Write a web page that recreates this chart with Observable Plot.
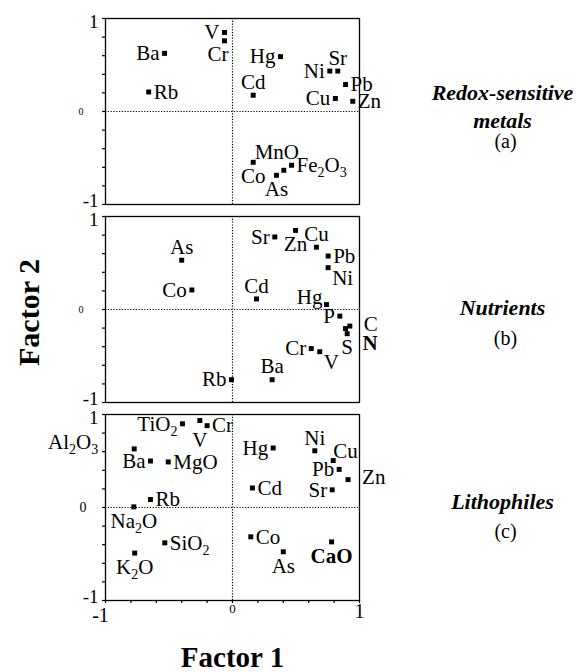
<!DOCTYPE html>
<html><head><meta charset="utf-8">
<script src="https://cdn.jsdelivr.net/npm/d3@7"></script>
<script src="https://cdn.jsdelivr.net/npm/@observablehq/plot@0.6"></script>
<style>body{margin:0;background:#fff;} svg{overflow:visible;}</style>
</head><body><div id="chart"></div>
<script>
// ---------- DATA ----------
const panels = ["a", "b", "c"];
const panelTitles = ["Redox-sensitive\nmetals", "Nutrients", "Lithophiles"];
const panelTags = ["(a)", "(b)", "(c)"];
const axisTicks = [-1, 0, 1];

// (a) Redox-sensitive metals
const labelsA  = ["V", "Cr", "Ba", "Rb", "Hg", "Cd", "Ni", "Sr", "Pb", "Cu", "Zn", "Co", "As", "MnO", "Fe2O3"];
const factor1A = [-0.063, -0.063, -0.535, -0.66, 0.378, 0.163, 0.766, 0.829, 0.89, 0.81, 0.947, 0.163, 0.346, 0.404, 0.465];
const factor2A = [0.85, 0.76, 0.625, 0.21, 0.59, 0.175, 0.435, 0.435, 0.29, 0.14, 0.11, -0.546, -0.686, -0.632, -0.578];

// (b) Nutrients
const labelsB  = ["Sr", "Zn", "Cu", "Pb", "Ni", "As", "Co", "Cd", "Hg", "P", "C", "N", "S", "Cr", "V", "Ba", "Rb"];
const factor1B = [0.333, 0.496, 0.661, 0.753, 0.753, -0.40, -0.32, 0.189, 0.74, 0.845, 0.924, 0.89, 0.903, 0.62, 0.687, 0.312, -0.008];
const factor2B = [0.78, 0.85, 0.67, 0.575, 0.45, 0.53, 0.21, 0.114, 0.053, -0.071, -0.178, -0.205, -0.26, -0.42, -0.454, -0.755, -0.755];

// (c) Lithophiles
const labelsC  = ["TiO2", "V", "Cr", "Al2O3", "Ba", "MgO", "Rb", "Na2O", "SiO2", "K2O", "Hg", "Cd", "Ni", "Cu", "Pb", "Zn", "Sr", "Co", "As", "CaO"];
const factor1C = [-0.394, -0.257, -0.20, -0.774, -0.646, -0.506, -0.646, -0.777, -0.533, -0.77, 0.32, 0.157, 0.648, 0.793, 0.84, 0.91, 0.785, 0.144, 0.40, 0.78];
const factor2C = [0.90, 0.935, 0.88, 0.63, 0.50, 0.49, 0.086, 0.007, -0.38, -0.49, 0.64, 0.21, 0.61, 0.505, 0.41, 0.30, 0.19, -0.315, -0.476, -0.37];

// ---------- LAYOUT (label placement codes, styles) ----------
const placeA = ["W", "SW", "W", "E", "W", "N", "W", "N", "E", "W", "E", "S", "S", "Nl", "E"];
const placeB = ["W", "S", "N", "E", "SE", "N", "W", "N", "NW", "W", "EE", "SEE", "S", "W", "SE", "N", "W"];
const placeC = ["W", "S2", "E", "WW", "W", "E", "E", "S", "E", "S", "W", "E", "N", "NE", "W", "EE", "W", "E", "S", "S"];
const boldLabels = [["b", "N"], ["c", "CaO"]];

const codes = {
  W:   {textAnchor: "end",    dx: -5, dy: 0},
  E:   {textAnchor: "start",  dx: 5,  dy: 0},
  EE:  {textAnchor: "start",  dx: 14, dy: -2},
  N:   {textAnchor: "middle", dx: 0,  dy: -13},
  Nl:  {textAnchor: "middle", dx: -7, dy: -18},
  S:   {textAnchor: "middle", dx: 0,  dy: 14},
  S2:  {textAnchor: "middle", dx: 0,  dy: 20},
  NE:  {textAnchor: "start",  dx: 0,  dy: -9},
  SE:  {textAnchor: "start",  dx: 4,  dy: 11},
  SEE: {textAnchor: "start",  dx: 17, dy: 15},
  SW:  {textAnchor: "end",    dx: 4,  dy: 13},
  NW:  {textAnchor: "end",    dx: -4, dy: -7},
  WW:  {textAnchor: "end",    dx: -36, dy: -7}
};

const rows = [];
function addPanel(panel, labels, f1, f2, place) {
  labels.forEach((l, i) => rows.push({
    panel, label: l, f1: f1[i], f2: f2[i], place: place[i],
    bold: boldLabels.some(([p, n]) => p === panel && n === l)
  }));
}
addPanel("a", labelsA, factor1A, factor2A, placeA);
addPanel("b", labelsB, factor1B, factor2B, placeB);
addPanel("c", labelsC, factor1C, factor2C, placeC);

const FONT = "Liberation Serif, Times New Roman, serif";
const LABEL_SIZE = 21;
const minorTicks = d3.range(-10, 11, 2).map(v => v / 10);

const labelMarks = [];
for (const [code, o] of Object.entries(codes)) {
  for (const bold of [false, true]) {
    const sub = rows.filter(r => r.place === code && r.bold === bold);
    if (!sub.length) continue;
    labelMarks.push(Plot.text(sub, {
      x: "f1", y: "f2", fy: "panel", text: "label",
      textAnchor: o.textAnchor, dx: o.dx, dy: o.dy,
      fontSize: LABEL_SIZE, fontWeight: bold ? "bold" : "normal", fill: "black"
    }));
  }
}

const titleDy = [-6.5, -3, -7];
const tagDy = [30.5, 29, 24];
const sideMarks = [];
panels.forEach((p, i) => {
  sideMarks.push(Plot.text([panelTitles[i]], {
    fy: () => p, text: d => d, frameAnchor: "right", dx: 143, dy: titleDy[i],
    textAnchor: "middle", lineHeight: 1.27, fontSize: 22, fontStyle: "italic", fontWeight: "bold"
  }));
  sideMarks.push(Plot.text([panelTags[i]], {
    fy: () => p, text: d => d, frameAnchor: "right", dx: 146, dy: tagDy[i],
    textAnchor: "middle", fontSize: 20
  }));
});

const chart = Plot.plot({
  width: 576,
  height: 672,
  marginLeft: 105,
  marginRight: 217,
  marginTop: 18,
  marginBottom: 71,
  style: {fontFamily: FONT, background: "white", color: "black"},
  x: {domain: [-1, 1]},
  y: {domain: [-1, 1]},
  fy: {domain: panels, axis: null, paddingInner: 0.0605, paddingOuter: 0},
  marks: [
    Plot.ruleX([0], {stroke: "black", strokeWidth: 1.2, strokeDasharray: "1.2,1.6"}),
    Plot.ruleY([0], {stroke: "black", strokeWidth: 1.2, strokeDasharray: "1.2,1.6"}),
    Plot.frame({stroke: "black", strokeWidth: 1.3}),
    Plot.axisY({ticks: minorTicks, tickSize: 3, tickFormat: () => "", label: null, strokeWidth: 1.2}),
    Plot.axisX({ticks: minorTicks, tickSize: 3, tickFormat: () => "", label: null, strokeWidth: 1.2}),
    // y tick labels
    Plot.text(axisTicks.filter(v => v === 1), {x: () => -1, y: d => d, text: d => String(d), textAnchor: "end", dx: -7, dy: 3, fontSize: 19}),
    Plot.text(axisTicks.filter(v => v === -1), {x: () => -1, y: d => d, text: d => String(d), textAnchor: "end", dx: -7, dy: -4, fontSize: 19}),
    Plot.text(["a", "b"], {fy: d => d, x: () => -1, y: () => axisTicks[1], text: () => "0", textAnchor: "end", dx: -22, fontSize: 10}),
    Plot.text(["c"], {fy: d => d, x: () => -1, y: () => axisTicks[1], text: () => "0", textAnchor: "end", dx: -19, fontSize: 14}),
    // x tick labels (bottom panel)
    Plot.text(axisTicks.filter(v => v === -1), {fy: () => "c", x: d => d, frameAnchor: "bottom", text: d => String(d), dx: -5, dy: 21, fontSize: 20}),
    Plot.text(axisTicks.filter(v => v === 0), {fy: () => "c", x: d => d, frameAnchor: "bottom", text: d => String(d), dy: 12, fontSize: 13}),
    Plot.text(axisTicks.filter(v => v === 1), {fy: () => "c", x: d => d, frameAnchor: "bottom", text: d => String(d), dy: 17, fontSize: 20}),
    // points
    Plot.dot(rows, {x: "f1", y: "f2", fy: "panel", symbol: "square", r: 2.8, fill: "black", stroke: null}),
    ...labelMarks,
    ...sideMarks,
    // axis titles
    Plot.text(["Factor 2"], {fy: () => "b", text: d => d, frameAnchor: "left", dx: -67, dy: 3, rotate: -90, lineAnchor: "bottom", textAnchor: "middle", fontSize: 30, fontWeight: "bold"}),
    Plot.text(["Factor 1"], {fy: () => "c", text: d => d, frameAnchor: "bottom", dy: 66, lineAnchor: "bottom", textAnchor: "middle", fontSize: 29, fontWeight: "bold"})
  ]
});

// chemical formula subscripts
chart.querySelectorAll("text").forEach(t => {
  const s = t.textContent;
  if (!/\d/.test(s) || !/^([A-Z][a-z]?\d*)+$/.test(s)) return;
  const parts = s.match(/\d+|\D+/g);
  t.textContent = "";
  let shifted = false;
  for (const p of parts) {
    const ts = document.createElementNS("http://www.w3.org/2000/svg", "tspan");
    ts.textContent = p;
    if (/\d/.test(p)) { ts.setAttribute("dy", "5"); ts.setAttribute("font-size", "14"); shifted = true; }
    else if (shifted) { ts.setAttribute("dy", "-5"); shifted = false; }
    t.appendChild(ts);
  }
});

document.getElementById("chart").appendChild(chart);
</script>
</body></html>
